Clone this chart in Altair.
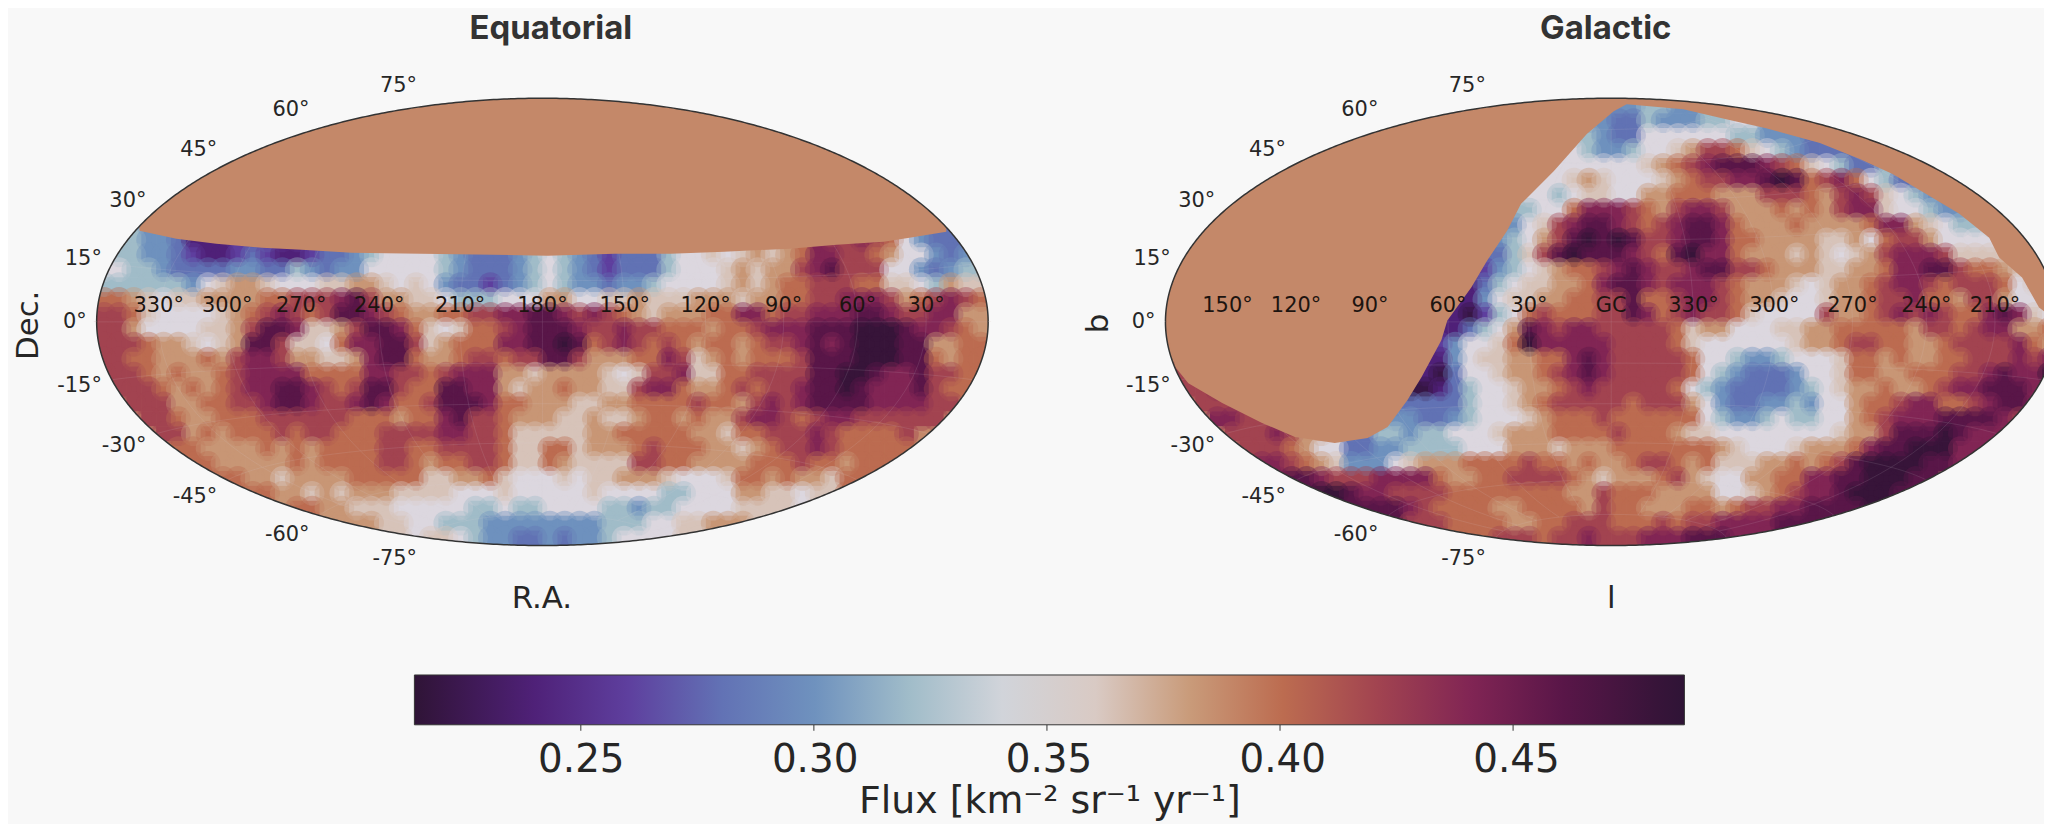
import math
import altair as alt
import pandas as pd

# Colour bar: stops (flux value, colour)
STOP_VALUES = [0.2143, 0.235, 0.26, 0.28, 0.30, 0.32, 0.335, 0.35, 0.365, 0.38, 0.40, 0.42, 0.435, 0.45, 0.47, 0.4859]
STOP_COLORS = ["#2f1436", "#4b1a6e", "#5e3f9e", "#6272b5", "#6f92be", "#a0bcc9", "#cad2d6", "#e0d9e1",
               "#d6c2b6", "#c99b7a", "#bc6c50", "#a24450", "#8a2a55", "#6e1a52", "#44133f", "#2f1436"]
CBAR_TICKS = [0.25, 0.30, 0.35, 0.40, 0.45]

# Flux level of every map character; '#' is the region without exposure
LEVELS = {"a": 0.22, "b": 0.24, "c": 0.26, "d": 0.28, "e": 0.30, "f": 0.32, "g": 0.347, "h": 0.364,
          "i": 0.382, "j": 0.40, "k": 0.42, "l": 0.44, "m": 0.46, "n": 0.48, "#": 0.388}
NO_EXPOSURE = LEVELS["#"]

# Rows top to bottom; "col:chars" segments, everything else is the '#' level
EQUATORIAL = [
    "", "", "", "", "", "", "", "", "",
    "2:feedbbbccdcc|50:klkjgedd",
    "1:ffeedcbbcdcbbcddefg|40:ghghihijllkkjiggede",
    "1:gffedddde eddfedeegg gggfedddef gfedcdddfg gghihiiklm kkkggedef",
    "1:fffffeghi ihggghhiih ghgeddcdef gfeedeefgg gghihijjkk kjjhhgfih",
    "0:jjihghhiii ijjkkklmki ihhgfffggg iigghhihhh iiihiijjkk lllkijklkj",
    "0:kkjhgggghi jklkjkmmlk jiijjkkllm mlklkjihii ijjlljkkll lmmlkkllii",
    "0:kkigggghhi kmmlhhikmm ljhghjjklm mmlkklkkjj jijjklllmm mnnnmllkji",
    "0:kkkjiihghi mmkhhgjllm mkhijjjllm mnmjklkjkj ijjijkklml mnnnmmiijj",
    "0:kkjjiiijik llkiihhilm mjiijkkjkk mmkiiijjlk hijijjjkmm mnnnmmjijj",
    "1:kkjijiijk lllljjjjll kkjkllliih iiiihghkkl hhjjkkkkmm nnmllmkkj",
    "2:kkjijijk llmmlkjkmm kjjmmllihi ijiihhkllj iijkjkklmm nmlllmkj",
    "3:kkiijjk klmmlkklml jjkmmmljji iihhiijjjj kjjiklklmm mmllllk",
    "4:kjiijj jkkkkkkjjj ijjlmkkjii ihhihhijji jiikllkjkl lkkkk",
    "5:kijij jjkjkkjjjk kkkllkkjhh hhhiijjjjj iihjjkkklk jjj",
    "6:jiii ijijijjjjk kjjkkkkjhh jjhiiijkjj jiihijkklk jjjj",
    "7:jii iiijijjjjk kjijjkkjhh jihhhhkkjj iiiijjjkjj ijj",
    "9:j iihiiiijjj jjhhiijhgg ghghhiiihg gghjjijiih j",
    "11:jiihihiii hhhhggghgg ggghggggff gggiihhgh",
    "14:jiihhh gggggffgff ggggffeffg ggghhh",
    "17:iih hggfffeeee eeeefffggh hii",
    "23:hgfeedd edeefgg",
]
GALACTIC = [
    "30:eef",
    "29:eddfeeeffg",
    "28:feddggggggffe",
    "27:gfeefgghikkjhgfedd",
    "26:ggggggh ijklmmmlkj hgfd",
    "25:gghihggg hijkkllmnm jkljgfd",
    "24:ggfghhggii jjjiiikkkj iklkhgfe",
    "24:fggjlllkji kllkiiijij ikllhggfe",
    "23:eghklmmlkj klmmljiiij iiiijllihg ff",
    "22:efgikmnmnm kklmmljjii iihhigjkki gggg",
    "22:dfhkmnmmml kjmnlljiii hihghikl llkhhh",
    "21:cefghijjkl mlkklmmkkj iiihhiijll mmkjjihh",
    "20:bdfghhiijl mmlklllkji iihghiijkl lkjkkkjgh",
    "20:beghhiijjk kmjjkllkji ihgghiijkk ljjikkiggi",
    "19:bacfgjkjjj kkmljklkkj hggggkiijk lklkjjlmlh gh",
    "19:bdfgimlkll kkkkkjhiig gghhiijjjj jikkjkllii j",
    "18:cegghjnlll llkkkkjhgg gggghiijkk jjiijkkkkl ji",
    "18:beghhiijjl mlkkkkkjgg feefggghjj ijiijjkkkl kl",
    "1:k|17:badgghiijk lmlkkkkkjg feddde gghjjiijjj kklmlln",
    "2:kl|17:abdfgghiij klkkkkkjgf edddde fghiijiijk llmmml",
    "3:kk|16:ddddfgghij kkkkkjkkki gedde efeggijjk lljjklmml",
    "4:lkk|15:eeddefggghi jjjkjjjjjj gfeefgffgg ijklllmmmm lk",
    "5:kklki|15:feffgggh iiijjjjkjjji hhgggggggg hiikmmmnml l",
    "6:kkjiggddee ffffgggiii hiiijjjjjj jihgggh iiijlmmnnnl",
    "7:lkjiheeegh iiijjjjkjj ijiijkkjij hhhiijijkm nnnnm",
    "9:mlkkkllllj iijjkkkkji hiiijkihgg iijjllmmnn nm",
    "11:nmllkkkkjj jjjjjjiikj jjiiiigghi jkllmnnnm",
    "14:mmlkjjjjii jjjjikjjii ijjijkkllm mm",
    "17:kkjjjjiijj kkkjjjkjkk llllmm",
    "23:kkjkklkkkl llmm",
]

# Edge of the exposed sky: no exposure above this line
EQ_EDGE_X = [140, 177, 217, 263, 303, 353, 423, 550, 617, 673, 727, 793, 840, 887, 913, 950]
EQ_EDGE_Y = [230, 238, 243, 247, 249, 252, 253, 255, 253, 253, 251, 248, 244, 241, 237, 231]
GAL_EDGE_X = [1170, 1180, 1193, 1227, 1267, 1300, 1340, 1373, 1393, 1413, 1427, 1447, 1453, 1477, 1493, 1513, 1527,
              1560, 1593, 1620, 1633, 1690, 1733, 1773, 1827, 1867, 1900, 1940, 1967, 1997, 2007, 2030, 2047, 2066]
GAL_EDGE_Y = [322, 367, 383, 403, 423, 437, 443, 438, 427, 400, 377, 340, 320, 287, 260, 230, 203,
              170, 133, 110, 103, 108, 118, 127, 142, 158, 173, 197, 213, 237, 257, 277, 307, 322]

LON_EQ = ["330°", "300°", "270°", "240°", "210°", "180°", "150°", "120°", "90°", "60°", "30°"]
LON_GAL = ["150°", "120°", "90°", "60°", "30°", "GC", "330°", "300°", "270°", "240°", "210°"]
LON_DEG = [-150, -120, -90, -60, -30, 0, 30, 60, 90, 120, 150]
LAT_DEG = [75, 60, 45, 30, 15, 0, -15, -30, -45, -60, -75]
LAT_NUDGE = [-20, -18, -14, -9, -5, 0, 6, 12, 17, 20, 21]

BG = "#f8f8f8"
INK = "#262626"
CX = [544.5, 1617.5]
CY, RX, RY = 321.5, 447.5, 224.5
NCOL, NROW = 60, 30
LEFT, RIGHT, TOP, BOTTOM = 8, 2052, 8, 824
BAR_L, BAR_R, BAR_T, BAR_B = 415, 1684, 674, 724

X = alt.Scale(domain=[LEFT, RIGHT])
Y = alt.Scale(domain=[BOTTOM, TOP])
cscale = alt.Scale(domain=STOP_VALUES, range=STOP_COLORS, interpolate="rgb")
XX = alt.X("x:Q", scale=X, axis=None)
YY = alt.Y("y:Q", scale=Y, axis=None)


def hammer(lon, lat):
    lam, phi = math.radians(lon), math.radians(lat)
    z = math.sqrt(1 + math.cos(phi) * math.cos(lam / 2))
    return math.cos(phi) * math.sin(lam / 2) / z, math.sin(phi) / z


def cells(rows, cx):
    grid = [["#"] * NCOL for _ in range(NROW)]
    for r, text in enumerate(rows):
        for seg in filter(None, text.replace(" ", "").split("|")):
            start, chars = seg.split(":")
            for k, ch in enumerate(chars):
                c = int(start) + k
                if c < NCOL:
                    grid[r][c] = ch
    # cells that touch the exposure edge take their neighbour's level: the edge line covers the rest
    full = [row[:] for row in grid]
    for r in range(NROW):
        for c in range(NCOL):
            if grid[r][c] == "#":
                for dr, dc in ((0, 1), (0, -1), (1, 0), (-1, 0)):
                    rr, cc = r + dr, c + dc
                    if 0 <= rr < NROW and 0 <= cc < NCOL and grid[rr][cc] != "#":
                        full[r][c] = grid[rr][cc]
                        break
    cw, ch_ = 2 * RX / NCOL, 2 * RY / NROW
    return [
        {"x": cx - RX + c * cw, "x2": cx - RX + (c + 1) * cw + 0.6, "xc": cx - RX + (c + 0.5) * cw,
         "y": CY - RY + r * ch_, "y2": CY - RY + (r + 1) * ch_ + 0.6, "yc": CY - RY + (r + 0.5) * ch_,
         "flux": LEVELS[full[r][c]]}
        for r in range(NROW) for c in range(NCOL)
    ]


heat = pd.DataFrame(cells(EQUATORIAL, CX[0]) + cells(GALACTIC, CX[1]))
heat_layer = alt.Chart(heat).mark_rect(clip=True).encode(
    x=XX, x2="x2:Q", y=YY, y2="y2:Q",
    color=alt.Color("flux:Q", scale=cscale, legend=alt.Legend(
        type="gradient",
        orient="none", legendX=BAR_L - LEFT + 1, legendY=BAR_T - TOP + 2, direction="horizontal",
        gradientLength=BAR_R - BAR_L + 6, gradientThickness=BAR_B - BAR_T,
        gradientStrokeColor="#333333", gradientStrokeWidth=1,
        values=CBAR_TICKS, format=".2f", labelFont="DejaVu Sans", labelFontSize=39, labelColor=INK,
        labelOffset=16, labelOverlap=False,
        title="Flux [km⁻² sr⁻¹ yr⁻¹]", titleFont="DejaVu Sans", titleFontSize=38, titleFontWeight="normal",
        titleColor=INK, titleOrient="bottom", titleAnchor="middle", titlePadding=4, titleLimit=900)),
)
soft_layer = alt.Chart(heat[heat["flux"] != NO_EXPOSURE]).mark_circle(clip=True, size=620, opacity=0.4).encode(
    x=alt.X("xc:Q", scale=X, axis=None), y=alt.Y("yc:Q", scale=Y, axis=None),
    color=alt.Color("flux:Q", scale=cscale, legend=None),
)

edge_rows = [{"g": "e", "x": a, "y": b, "y2": CY - RY, "flux": NO_EXPOSURE} for a, b in zip(EQ_EDGE_X, EQ_EDGE_Y)]
edge_rows += [{"g": "g", "x": a, "y": b, "y2": CY - RY, "flux": NO_EXPOSURE} for a, b in zip(GAL_EDGE_X, GAL_EDGE_Y)]
edge_layer = alt.Chart(pd.DataFrame(edge_rows)).mark_area(clip=True, opacity=1).encode(
    x=XX, y=YY, y2="y2:Q", detail="g:N", color=alt.Color("flux:Q", scale=cscale, legend=None))

# page-coloured mask outside the ellipse, ellipse outline and graticule
MARGIN = 26
mask, outline, grat = [], [], []
for p, cx in enumerate(CX):
    for side, sign in (("t", -1), ("b", 1)):
        mask.append({"g": f"{side}{p}", "x": cx - RX - MARGIN, "y": CY, "y2": CY + sign * (RY + MARGIN)})
    for i in range(401):
        t = math.pi * i / 400
        x, h = cx - RX * math.cos(t), RY * math.sin(t)
        mask.append({"g": f"t{p}", "x": x, "y": CY - h, "y2": CY - RY - MARGIN})
        mask.append({"g": f"b{p}", "x": x, "y": CY + h, "y2": CY + RY + MARGIN})
        outline.append({"g": f"t{p}", "o": i, "x": x, "y": CY - h})
        outline.append({"g": f"b{p}", "o": i, "x": x, "y": CY + h})
    for side, sign in (("t", -1), ("b", 1)):
        mask.append({"g": f"{side}{p}", "x": cx + RX + MARGIN, "y": CY, "y2": CY + sign * (RY + MARGIN)})
    for lon in LON_DEG:
        for k in range(61):
            a, b = hammer(lon, -75 + 2.5 * k)
            grat.append({"g": f"v{p}{lon}", "o": k, "x": cx + RX * a, "y": CY - RY * b})
    for lat in LAT_DEG:
        for k in range(73):
            a, b = hammer(-180 + 5 * k, lat)
            grat.append({"g": f"h{p}{lat}", "o": k, "x": cx + RX * a, "y": CY - RY * b})

grat_layer = alt.Chart(pd.DataFrame(grat)).mark_line(clip=True, color="#d8d0d8", opacity=0.13, strokeWidth=1).encode(
    x=XX, y=YY, detail="g:N", order="o:Q")
mask_layer = alt.Chart(pd.DataFrame(mask)).mark_area(clip=True, color=BG, opacity=1).encode(
    x=XX, y=YY, y2="y2:Q", detail="g:N")
line_layer = alt.Chart(pd.DataFrame(outline)).mark_line(clip=True, color="#333333", strokeWidth=1.5).encode(
    x=XX, y=YY, detail="g:N", order="o:Q")

# colour-bar ticks
span = STOP_VALUES[-1] - STOP_VALUES[0]
ticks = pd.DataFrame([{"x": BAR_L + 1 + (v - STOP_VALUES[0]) / span * (BAR_R - BAR_L + 2), "y": BAR_B + 2, "y2": BAR_B + 8}
                      for v in CBAR_TICKS])
tick_layer = alt.Chart(ticks).mark_rule(color="#333333", strokeWidth=1).encode(x=XX, y=YY, y2="y2:Q")


def text_layer(rows, **mark):
    return alt.Chart(pd.DataFrame(rows)).mark_text(**mark).encode(x=XX, y=YY, text="t:N")


lon_rows, lat_rows = [], []
for cx, labels in zip(CX, [LON_EQ, LON_GAL]):
    for lon, lab in zip(LON_DEG, labels):
        lon_rows.append({"x": cx + RX * hammer(lon, 0)[0], "y": CY - 16, "t": lab})
    for lat, nudge in zip(LAT_DEG, LAT_NUDGE):
        a, b = hammer(-180, lat)
        lat_rows.append({"x": cx + RX * a - 10, "y": CY - RY * b + nudge, "t": f"{lat}°"})

lon_text = text_layer(lon_rows, font="DejaVu Sans", fontSize=21, color="#1c1410", align="center", baseline="middle", clip=True)
lat_text = text_layer(lat_rows, font="DejaVu Sans", fontSize=21, color=INK, align="right", baseline="middle")
titles = text_layer([{"x": 553, "y": 28, "t": "Equatorial"}, {"x": 1612, "y": 28, "t": "Galactic"}],
                    font="Inter", fontSize=33, fontWeight="bold", color="#333333", align="center", baseline="middle")
xlabels = text_layer([{"x": 544, "y": 600, "t": "R.A."}, {"x": 1617.5, "y": 600, "t": "l"}],
                     font="DejaVu Sans", fontSize=31, color=INK, align="center", baseline="middle")
ylabels = text_layer([{"x": 29, "y": 325, "t": "Dec."}, {"x": 1103, "y": 323, "t": "b"}],
                     font="DejaVu Sans", fontSize=31, color=INK, align="center", baseline="middle", angle=270)

chart = alt.layer(heat_layer, soft_layer, grat_layer, edge_layer, mask_layer, line_layer, tick_layer,
                  lon_text, lat_text, titles, xlabels, ylabels).properties(
    width=RIGHT - LEFT, height=BOTTOM - TOP, background=BG, padding=0,
    autosize=alt.AutoSizeParams(type="none"),
).resolve_scale(color="shared").configure_view(strokeWidth=0)

chart.save("out.html", embed_options={"renderer": "svg", "actions": False})
